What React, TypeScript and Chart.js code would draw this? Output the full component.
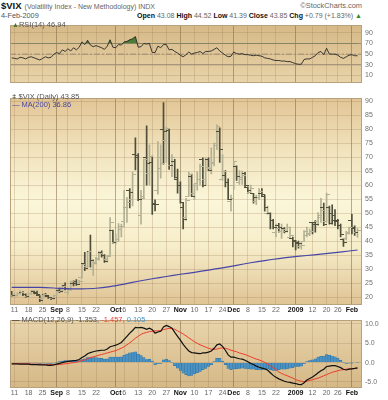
import React, { useEffect, useRef } from "react";
import { Chart, registerables } from "chart.js";

Chart.register(...registerables);

// ---------- categories (trading days) ----------
const dates = [
  "Aug 8", "Aug 11", "Aug 12", "Aug 13", "Aug 14", "Aug 15", "Aug 18", "Aug 19", "Aug 20", "Aug 21", "Aug 22",
  "Aug 25", "Aug 26", "Aug 27", "Aug 28", "Aug 29",
  "Sep 2", "Sep 3", "Sep 4", "Sep 5", "Sep 8", "Sep 9", "Sep 10", "Sep 11", "Sep 12", "Sep 15", "Sep 16", "Sep 17",
  "Sep 18", "Sep 19", "Sep 22", "Sep 23", "Sep 24", "Sep 25", "Sep 26", "Sep 29", "Sep 30",
  "Oct 1", "Oct 2", "Oct 3", "Oct 6", "Oct 7", "Oct 8", "Oct 9", "Oct 10", "Oct 13", "Oct 14", "Oct 15", "Oct 16",
  "Oct 17", "Oct 20", "Oct 21", "Oct 22", "Oct 23", "Oct 24", "Oct 27", "Oct 28", "Oct 29", "Oct 30", "Oct 31",
  "Nov 3", "Nov 4", "Nov 5", "Nov 6", "Nov 7", "Nov 10", "Nov 11", "Nov 12", "Nov 13", "Nov 14", "Nov 17", "Nov 18",
  "Nov 19", "Nov 20", "Nov 21", "Nov 24", "Nov 25", "Nov 26", "Nov 28",
  "Dec 1", "Dec 2", "Dec 3", "Dec 4", "Dec 5", "Dec 8", "Dec 9", "Dec 10", "Dec 11", "Dec 12", "Dec 15", "Dec 16",
  "Dec 17", "Dec 18", "Dec 19", "Dec 22", "Dec 23", "Dec 24", "Dec 26", "Dec 29", "Dec 30", "Dec 31",
  "Jan 2", "Jan 5", "Jan 6", "Jan 7", "Jan 8", "Jan 9", "Jan 12", "Jan 13", "Jan 14", "Jan 15", "Jan 16", "Jan 20",
  "Jan 21", "Jan 22", "Jan 23", "Jan 26", "Jan 27", "Jan 28", "Jan 29", "Jan 30",
  "Feb 2", "Feb 3", "Feb 4",
];

// x-axis tick labels (index into dates)
const tickIdx = [1, 6, 11, 16, 20, 25, 30, 37, 40, 45, 50, 55, 60, 65, 70, 75, 79, 84, 89, 94, 101, 107, 112, 116, 121];
const tickLabels = ["11", "18", "25", "Sep", "8", "15", "22", "Oct", "6", "13", "20", "27", "Nov", "10", "17", "24", "Dec", "8", "15", "22", "2009", "12", "20", "26", "Feb"];
const monthLabels = ["Sep", "Oct", "Nov", "Dec", "2009", "Feb"];

// ---------- $VIX daily OHLC ----------
const openP = [
  21.9, 20.5, 20.6, 21.5, 21.8, 21.0, 20.3, 21.3, 22.0, 21.8, 20.5, 19.5, 21.0, 20.4, 19.8, 19.6,
  20.5, 22.5, 22.0, 24.3, 21.8, 22.6, 25.0, 25.6, 24.9, 27.0, 32.0, 30.9, 36.5, 30.0, 32.5, 33.8, 35.9, 34.8, 33.5, 35.0, 43.9,
  39.6, 40.5, 44.0, 47.0, 52.0, 58.0, 55.0, 71.0, 70.5, 49.0, 56.0, 70.0, 64.0, 68.0, 53.5, 58.0, 66.0, 80.0, 76.0, 79.5, 67.0, 68.5, 62.0,
  59.8, 52.0, 48.5, 56.0, 63.0, 57.0, 60.5, 62.0, 69.0, 62.0, 69.2, 66.0, 68.0, 75.0, 79.0, 62.0, 63.5, 61.0, 54.0,
  60.0, 66.5, 61.0, 62.0, 64.0, 59.0, 57.5, 57.0, 54.0, 55.5, 57.0, 56.0, 49.8, 50.0, 47.5, 43.0, 45.5, 43.5, 44.5, 43.5, 41.3, 41.0,
  40.0, 39.5, 38.0, 40.0, 42.0, 42.5, 46.5, 46.5, 47.0, 48.5, 52.0, 47.0, 52.0, 50.0, 49.0, 47.0, 45.5, 40.5, 41.0, 43.0,
  47.5, 44.5, 43.08,
];
const highP = [
  22.1, 21.3, 21.6, 22.4, 22.0, 21.2, 21.5, 22.5, 22.4, 22.2, 20.6, 21.2, 21.4, 20.7, 20.0, 20.8,
  23.0, 23.3, 24.3, 25.1, 23.3, 25.8, 25.9, 26.3, 26.0, 31.9, 36.0, 36.4, 42.2, 33.5, 34.2, 36.3, 36.6, 35.2, 35.0, 48.4, 44.0,
  42.6, 46.3, 46.1, 58.2, 55.7, 58.8, 64.7, 76.9, 71.3, 58.2, 69.3, 81.2, 74.4, 70.4, 54.8, 75.6, 74.4, 89.5, 80.7, 80.0, 70.9, 69.2, 65.7,
  61.2, 53.6, 55.3, 64.7, 64.0, 60.5, 64.7, 67.5, 69.8, 69.8, 69.8, 73.3, 75.0, 81.5, 80.5, 70.9, 65.2, 62.3, 56.5,
  68.6, 66.9, 65.2, 65.0, 64.6, 59.4, 60.0, 57.1, 56.5, 58.8, 58.8, 56.5, 52.5, 50.2, 47.8, 46.1, 46.4, 46.1, 44.9, 46.1, 45.0, 41.5,
  40.3, 40.0, 39.5, 43.8, 45.0, 44.3, 46.7, 47.4, 50.2, 55.3, 53.6, 57.2, 52.5, 53.0, 51.3, 47.8, 46.1, 41.0, 43.5, 45.0,
  49.6, 45.5, 44.52,
];
const lowP = [
  20.4, 20.1, 20.4, 21.0, 20.6, 19.9, 20.0, 21.0, 21.2, 20.6, 18.4, 19.3, 20.3, 19.6, 19.1, 19.3,
  20.4, 21.6, 21.9, 22.6, 21.0, 22.3, 24.0, 24.2, 24.6, 26.8, 29.5, 30.6, 30.7, 27.8, 31.8, 33.2, 34.3, 32.4, 32.5, 34.8, 39.3,
  38.9, 40.0, 41.5, 45.6, 46.7, 51.9, 52.6, 65.4, 54.5, 46.1, 55.5, 60.0, 60.0, 49.6, 50.8, 56.8, 62.5, 67.5, 68.0, 65.6, 63.0, 62.5, 57.1,
  53.6, 44.4, 47.4, 56.0, 55.9, 54.8, 58.2, 60.0, 59.4, 60.0, 65.2, 64.0, 66.9, 72.7, 68.1, 61.7, 59.4, 54.8, 50.7,
  58.5, 61.7, 60.3, 60.3, 59.4, 57.1, 57.1, 53.6, 53.0, 54.8, 55.9, 50.7, 49.6, 44.4, 44.4, 41.5, 43.2, 41.0, 43.0, 43.2, 41.0, 38.0,
  36.9, 37.5, 37.2, 39.8, 41.5, 42.0, 42.6, 43.2, 45.5, 46.7, 45.5, 46.7, 46.1, 46.1, 45.5, 44.4, 41.5, 38.1, 40.5, 42.5,
  42.6, 42.1, 41.39,
];
const closeP = [
  20.7, 20.6, 21.2, 21.6, 21.0, 20.4, 21.3, 22.3, 21.5, 21.0, 18.8, 21.0, 20.6, 19.8, 19.4, 20.7,
  22.0, 21.9, 24.0, 23.1, 22.6, 25.5, 24.8, 24.4, 25.7, 31.7, 30.3, 36.2, 33.1, 32.1, 33.6, 35.7, 35.0, 32.8, 34.7, 46.7, 39.4,
  39.8, 45.3, 45.1, 52.1, 53.7, 57.5, 63.9, 70.0, 55.0, 55.1, 69.3, 67.6, 70.3, 53.0, 53.1, 69.7, 67.8, 79.1, 80.1, 67.0, 70.0, 62.9, 60.0,
  53.7, 47.7, 54.6, 63.7, 56.1, 60.0, 61.9, 66.5, 59.8, 66.3, 65.3, 67.6, 74.3, 80.9, 72.7, 64.7, 60.9, 54.9, 55.3,
  68.5, 63.0, 62.8, 63.6, 59.9, 58.2, 58.9, 55.7, 55.7, 57.8, 56.7, 52.0, 50.3, 47.5, 45.0, 44.5, 45.0, 44.2, 43.4, 45.0, 42.0, 40.3,
  39.2, 39.1, 38.6, 43.4, 42.8, 43.3, 46.0, 46.0, 49.1, 51.0, 46.1, 56.7, 46.4, 47.3, 47.3, 45.7, 42.3, 39.7, 42.6, 44.8,
  45.0, 43.1, 43.85,
];

// MA(200), read at selected days
const maIdx = [0, 5, 10, 15, 20, 25, 30, 35, 40, 45, 50, 55, 60, 65, 70, 75, 80, 85, 90, 95, 100, 105, 110, 115, 120, 123];
const maVal = [23.5, 23.5, 23.5, 23.3, 23.0, 23.0, 23.2, 23.8, 24.7, 25.7, 26.6, 27.4, 28.2, 28.9, 29.7, 30.5, 31.4, 32.3, 33.1, 33.8, 34.4, 34.9, 35.4, 35.9, 36.5, 36.86];

// RSI(14)
const rsi = [
  43, 42, 41, 44, 43, 41, 44, 45, 43, 41, 39, 42, 45, 43, 44, 50, 53, 51, 58, 55,
  60, 56, 62, 58, 63, 73, 68, 76, 67, 64, 66, 64, 62, 59, 65, 77, 63, 62, 68, 67,
  73, 74, 77, 79, 83, 63, 64, 70, 69, 70, 53, 53, 65, 62, 68, 68, 58, 59, 55, 52,
  48, 45, 49, 54, 50, 52, 53, 55, 51, 55, 55, 56, 59, 62, 56, 52, 48, 45, 46, 54,
  51, 50, 51, 49, 49, 48, 47, 48, 47, 46, 43, 42, 41, 39, 38, 38, 37, 37, 36, 36,
  34, 32, 31, 31, 40, 41, 41, 44, 47, 53, 55, 49, 61, 50, 50, 50, 48, 44, 42, 45,
  48, 49, 47, 46.94,
];

// MACD(12,26,9)
const macd = [
  -0.3, -0.3, -0.3, -0.4, -0.4, -0.4, -0.4, -0.5, -0.5, -0.5, -0.6, -0.6, -0.6, -0.7, -0.7, -0.6, -0.4, -0.2, 0.0, 0.2,
  0.3, 0.4, 0.5, 0.6, 0.8, 1.3, 1.7, 2.3, 2.6, 2.8, 3.0, 3.1, 3.2, 3.2, 3.5, 4.1, 4.3, 4.5, 4.8, 5.2,
  6.0, 6.8, 7.6, 8.3, 9.1, 9.0, 9.1, 8.9, 8.6, 8.9, 8.5, 7.6, 7.9, 8.1, 9.2, 9.6, 9.3, 8.9, 7.8, 6.8,
  5.8, 4.7, 3.8, 3.0, 2.6, 2.5, 2.4, 2.3, 2.5, 2.5, 2.7, 3.0, 3.7, 4.6, 4.8, 4.2, 3.2, 2.0, 1.4, 1.4,
  1.2, 1.0, 0.9, 0.6, 0.2, -0.2, -0.5, -0.9, -1.2, -1.4, -1.6, -1.9, -2.6, -3.3, -3.8, -4.2, -4.5, -4.8, -5.0, -5.1,
  -5.3, -5.4, -5.6, -5.7, -5.2, -4.5, -4.1, -3.7, -3.2, -2.6, -2.1, -1.7, -1.0, -0.9, -0.8, -0.8, -1.0, -1.3, -1.7, -1.9,
  -1.7, -1.6, -1.5, -1.353,
];
const signal = [
  -0.3, -0.3, -0.3, -0.3, -0.3, -0.3, -0.3, -0.4, -0.4, -0.4, -0.4, -0.5, -0.5, -0.5, -0.5, -0.5, -0.5, -0.5, -0.4, -0.3,
  -0.2, -0.1, 0.0, 0.1, 0.3, 0.5, 0.7, 1.0, 1.3, 1.5, 1.7, 1.9, 2.1, 2.3, 2.5, 2.7, 2.9, 3.1, 3.4, 3.7,
  4.1, 4.6, 5.1, 5.7, 6.3, 6.8, 7.3, 7.6, 7.8, 8.0, 8.1, 8.2, 8.2, 8.3, 8.5, 8.7, 8.8, 8.8, 8.6, 8.2,
  7.8, 7.4, 6.9, 6.4, 5.9, 5.4, 5.0, 4.6, 4.3, 4.0, 3.7, 3.5, 3.4, 3.5, 3.7, 3.8, 3.7, 3.5, 3.2, 3.0,
  2.8, 2.5, 2.3, 2.1, 1.8, 1.5, 1.2, 0.9, 0.7, 0.4, 0.1, -0.3, -0.8, -1.3, -1.8, -2.4, -2.8, -3.1, -3.4, -3.7,
  -4.0, -4.4, -4.6, -4.8, -4.9, -4.8, -4.6, -4.4, -4.2, -4.0, -3.7, -3.4, -3.1, -2.8, -2.5, -2.3, -2.1, -1.9, -1.8, -1.7,
  -1.6, -1.55, -1.5, -1.457,
];
const hist = [
  0.0, 0.0, 0.0, -0.1, -0.1, -0.1, -0.1, -0.1, -0.1, -0.1, -0.2, -0.1, -0.1, -0.2, -0.2, -0.1, 0.1, 0.3, 0.4, 0.5,
  0.5, 0.5, 0.5, 0.5, 0.5, 0.8, 1.0, 1.3, 1.3, 1.3, 1.3, 1.2, 1.1, 0.9, 1.0, 1.4, 1.4, 1.4, 1.4, 1.5,
  1.9, 2.2, 2.5, 2.6, 2.8, 2.2, 1.8, 1.3, 0.8, 0.9, 0.4, -0.6, -0.3, -0.2, 0.7, 0.9, 0.5, 0.1, -0.8, -1.4,
  -2.0, -2.7, -3.1, -3.4, -3.3, -2.9, -2.6, -2.3, -1.8, -1.5, -1.0, -0.5, 0.3, 1.1, 1.1, 0.4, -0.5, -1.5, -1.8, -1.6,
  -1.6, -1.5, -1.4, -1.5, -1.6, -1.7, -1.7, -1.8, -1.9, -1.8, -1.7, -1.6, -1.8, -2.0, -2.0, -1.8, -1.7, -1.7, -1.6, -1.4,
  -1.3, -1.0, -1.0, -0.9, -0.3, 0.3, 0.5, 0.7, 1.0, 1.4, 1.6, 1.7, 2.1, 1.9, 1.7, 1.5, 1.1, 0.6, 0.1, -0.2,
  -0.1, -0.05, 0.0, 0.105,
];

const priceTicks = [20, 25, 30, 35, 40, 45, 50, 55, 60, 65, 70, 75, 80, 85, 90];
const rsiTicks = [10, 30, 50, 70, 90];
const macdTicks = [-5, -2.5, 0, 2.5, 5, 7.5, 10];

// ---------- styling ----------
const FONT = "'Liberation Sans', Arial, sans-serif";
const X_MIN = -0.6;
const X_MAX = 124.6;
const DARK = "#4e4e3a";
const LIGHT = "#b3b093";

const isMonth = (i: number) => monthLabels.includes(tickLabels[i]);

const panelPlugin = {
  id: "panel",
  beforeDraw(chart: any, _a: any, opts: any) {
    const { ctx, chartArea: a } = chart;
    if (!a || !opts || !opts.stops) return;
    const g = ctx.createLinearGradient(0, a.top, 0, a.bottom);
    opts.stops.forEach((s: any) => g.addColorStop(s[0], s[1]));
    ctx.save();
    ctx.fillStyle = g;
    ctx.fillRect(a.left, a.top, a.right - a.left, a.bottom - a.top);
    ctx.restore();
  },
  afterDraw(chart: any, _a: any, opts: any) {
    const { ctx, chartArea: a } = chart;
    if (!a) return;
    ctx.save();
    ctx.strokeStyle = (opts && opts.frame) || "#b8a17c";
    ctx.lineWidth = 1;
    ctx.strokeRect(Math.round(a.left) + 0.5, Math.round(a.top) + 0.5, Math.round(a.right - a.left) - 1, Math.round(a.bottom - a.top) - 1);
    ctx.restore();
  },
};

function xScale(showLabels: boolean) {
  return {
    type: "linear",
    min: X_MIN,
    max: X_MAX,
    offset: false,
    afterBuildTicks: (s: any) => {
      s.ticks = tickIdx.map((v) => ({ value: v }));
    },
    afterFit: (s: any) => {
      s.height = showLabels ? 12 : 0;
    },
    ticks: {
      display: showLabels,
      autoSkip: false,
      maxRotation: 0,
      minRotation: 0,
      padding: 1,
      callback: (_v: any, i: number) => tickLabels[i],
      color: (c: any) => (isMonth(c.index) ? "#111" : "#666"),
      font: (c: any) => ({ family: FONT, size: 7, weight: isMonth(c.index) ? "bold" : "normal" }),
    },
    grid: {
      color: (c: any) => (isMonth(c.index) ? "rgba(120,95,60,0.5)" : "rgba(150,120,80,0.25)"),
      lineWidth: 1,
      drawTicks: false,
      offset: false,
    },
    border: { display: false },
  };
}

function yScale(min: number, max: number, vals: number[], fmt: (v: number) => string) {
  return {
    position: "right",
    min,
    max,
    afterBuildTicks: (s: any) => {
      s.ticks = vals.map((v) => ({ value: v }));
    },
    afterFit: (s: any) => {
      s.width = 26;
    },
    ticks: {
      padding: 3,
      color: "#707070",
      font: { family: FONT, size: 7 },
      callback: (v: any) => fmt(Number(v)),
    },
    grid: { color: "rgba(150,120,80,0.25)", drawTicks: false },
    border: { display: false },
  };
}

function tickImg(color: string, side: "L" | "R") {
  const c = document.createElement("canvas");
  c.width = 7;
  c.height = 1;
  const g = c.getContext("2d")!;
  g.fillStyle = color;
  if (side === "L") g.fillRect(0, 0, 3, 1);
  else g.fillRect(4, 0, 3, 1);
  return c;
}

const baseOptions = (padTop: number) => ({
  responsive: false,
  animation: false,
  devicePixelRatio: 1,
  layout: { padding: { left: 10, right: 0, top: padTop, bottom: 0 } },
  plugins: { legend: { display: false }, tooltip: { enabled: false } },
  events: [],
});

export default function App() {
  const rsiRef = useRef<HTMLCanvasElement>(null);
  const priceRef = useRef<HTMLCanvasElement>(null);
  const macdRef = useRef<HTMLCanvasElement>(null);

  useEffect(() => {
    const charts: Chart[] = [];
    const up = (i: number) => closeP[i] >= openP[i];
    const openDark = tickImg(DARK, "L");
    const openLight = tickImg(LIGHT, "L");
    const closeDark = tickImg(DARK, "R");
    const closeLight = tickImg(LIGHT, "R");

    // RSI panel
    if (rsiRef.current) {
      const ref = (v: number, dash: number[]) => ({
        type: "line",
        data: [
          { x: X_MIN, y: v },
          { x: X_MAX, y: v },
        ],
        borderColor: "#9b8a74",
        borderWidth: 1,
        borderDash: dash,
        pointRadius: 0,
        fill: false,
        order: 2,
      });
      const opts: any = baseOptions(2);
      opts.scales = { x: xScale(false), y: yScale(-3.9, 104.4, rsiTicks, (v) => String(v)) };
      opts.plugins.panel = { stops: [[0, "#d6b987"], [1, "#e8d3a9"]] };
      charts.push(
        new Chart(rsiRef.current, {
          type: "line",
          data: {
            datasets: [
              {
                type: "line",
                data: rsi.map((v, i) => ({ x: i, y: v })),
                borderColor: "#262626",
                borderWidth: 0.9,
                pointRadius: 0,
                fill: { target: { value: 70 }, above: "#4d7a34", below: "rgba(0,0,0,0)" },
                order: 0,
              },
              ref(70, []),
              ref(30, []),
              ref(50, [6, 2, 2, 2]),
            ] as any,
          },
          options: opts,
          plugins: [panelPlugin as any],
        })
      );
    }

    // Price panel
    if (priceRef.current) {
      const opts: any = baseOptions(1);
      opts.scales = { x: xScale(true), y: yScale(17.23, 91.04, priceTicks, (v) => String(v)) };
      opts.plugins.panel = {
        stops: [
          [0, "#e2c595"],
          [0.25, "#f1e3bd"],
          [0.5, "#fbf6d9"],
          [0.72, "#f6edc9"],
          [1, "#dfc394"],
        ],
      };
      charts.push(
        new Chart(priceRef.current, {
          type: "line",
          data: {
            datasets: [
              {
                type: "line",
                data: maIdx.map((x, i) => ({ x, y: maVal[i] })),
                borderColor: "#4646a6",
                borderWidth: 1.2,
                pointRadius: 0,
                tension: 0.3,
                fill: false,
                order: 0,
              },
              {
                type: "line",
                data: closeP.map((c, i) => ({ x: i, y: c })),
                showLine: false,
                pointRadius: 2,
                pointStyle: (c: any) => (up(c.dataIndex) ? closeLight : closeDark),
                order: 1,
              },
              {
                type: "line",
                data: openP.map((o, i) => ({ x: i, y: o })),
                showLine: false,
                pointRadius: 2,
                pointStyle: (c: any) => (up(c.dataIndex) ? openLight : openDark),
                order: 2,
              },
              {
                type: "bar",
                data: lowP.map((l, i) => ({ x: i, y: [l, highP[i]] })),
                backgroundColor: (c: any) => (up(c.dataIndex) ? LIGHT : DARK),
                borderWidth: 0,
                barThickness: 1,
                grouped: false,
                order: 3,
              },
            ] as any,
          },
          options: opts,
          plugins: [panelPlugin as any],
        })
      );
    }

    // MACD panel
    if (macdRef.current) {
      const opts: any = baseOptions(2);
      opts.scales = { x: xScale(true), y: yScale(-6.55, 10.95, macdTicks, (v) => v.toFixed(1)) };
      opts.plugins.panel = { stops: [[0, "#e8d4ab"], [1, "#d5b886"]] };
      charts.push(
        new Chart(macdRef.current, {
          type: "line",
          data: {
            datasets: [
              {
                type: "line",
                data: macd.map((v, i) => ({ x: i, y: v })),
                borderColor: "#111111",
                borderWidth: 1.2,
                pointRadius: 0,
                fill: false,
                order: 0,
              },
              {
                type: "line",
                data: signal.map((v, i) => ({ x: i, y: v })),
                borderColor: "#ee3b2b",
                borderWidth: 1,
                pointRadius: 0,
                fill: false,
                order: 1,
              },
              {
                type: "bar",
                data: hist.map((v, i) => ({ x: i, y: v })),
                backgroundColor: "#4a93c6",
                borderColor: "#2d6f9e",
                borderWidth: 0.5,
                barThickness: 2.6,
                grouped: false,
                order: 2,
              },
            ] as any,
          },
          options: opts,
          plugins: [panelPlugin as any],
        })
      );
    }

    return () => charts.forEach((c) => c.destroy());
  }, []);

  const txt = (extra: any) => ({
    position: "absolute" as const,
    fontFamily: FONT,
    whiteSpace: "nowrap" as const,
    lineHeight: 1,
    ...extra,
  });

  return (
    <div style={{ position: "fixed", left: 0, top: 0, width: 388, height: 400, background: "#fff", overflow: "hidden", fontSize: 7 }}>
      {/* header */}
      <div style={txt({ left: 1, top: 1, fontSize: 9.5, height: 10 })}>
        <span style={{ fontWeight: "bold", fontSize: 9.5, color: "#111" }}>$VIX</span>
        <span style={{ fontSize: 7, color: "#666", marginLeft: 3 }}>(Volatility Index - New Methodology) INDX</span>
      </div>
      <div style={txt({ right: 26, top: 2, fontSize: 7.4, color: "#666" })}>©StockCharts.com</div>
      <div style={txt({ left: 1, top: 11.5, fontSize: 7.3, color: "#555" })}>4-Feb-2009</div>
      <div style={txt({ right: 26, top: 11.5, fontSize: 7, color: "#666" })}>
        <b style={{ color: "#111" }}>Open</b> 43.08 <b style={{ color: "#111" }}>High</b> 44.52 <b style={{ color: "#111" }}>Low</b> 41.39{" "}
        <b style={{ color: "#111" }}>Close</b> 43.85 <b style={{ color: "#111" }}>Chg</b> +0.79 (+1.83%) <span style={{ color: "#2e8b2e" }}>▲</span>
      </div>

      <canvas ref={rsiRef} width={388} height={72} style={{ position: "absolute", left: 0, top: 18, width: 388, height: 72 }} />
      <canvas ref={priceRef} width={388} height={226} style={{ position: "absolute", left: 0, top: 91, width: 388, height: 226 }} />
      <canvas ref={macdRef} width={388} height={87} style={{ position: "absolute", left: 0, top: 313, width: 388, height: 87 }} />

      {/* panel legends */}
      <div style={txt({ left: 12, top: 20.5, fontSize: 7.5, color: "#555" })}>
        <span style={{ color: "#4d7a34", fontSize: 7 }}>▲</span>RSI(14) 46.94
      </div>
      <div style={txt({ left: 12, top: 93, fontSize: 7.5, color: "#555" })}>
        <span style={{ color: "#4e4e3a" }}>ǂ</span> $VIX (Daily) 43.85
      </div>
      <div style={txt({ left: 12, top: 101, fontSize: 7.5, color: "#4646a6" })}>— MA(200) 36.86</div>
      <div style={txt({ left: 12, top: 316, fontSize: 7.5, color: "#555" })}>
        <span style={{ color: "#111" }}>—</span> MACD(12,26,9) -1.353, <span style={{ color: "#ee3b2b" }}>-1.457,</span>{" "}
        <span style={{ color: "#4a93c6" }}>0.105</span>
      </div>
    </div>
  );
}
